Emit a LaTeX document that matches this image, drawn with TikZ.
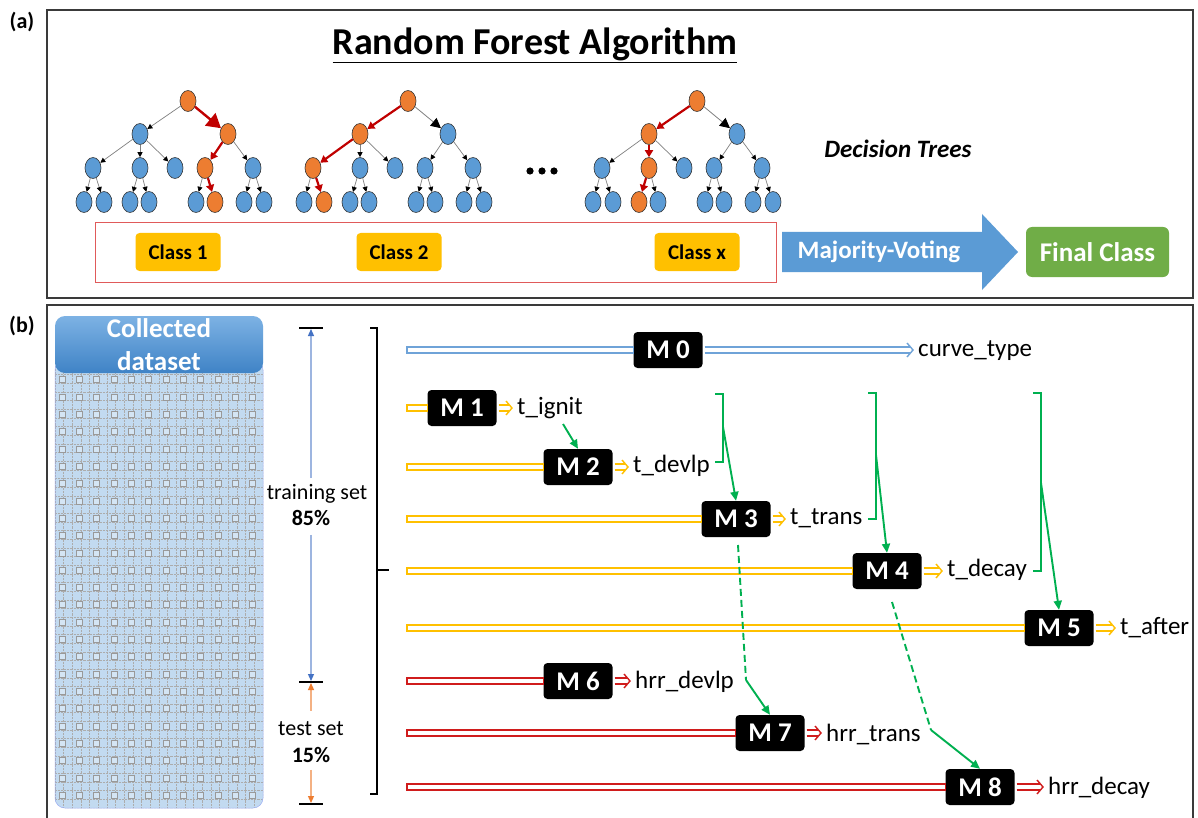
\documentclass[tikz,border=0pt]{standalone}
\usepackage{fontspec}
\setmainfont{Carlito}
\usetikzlibrary{arrows.meta,shapes.geometric,calc}
\definecolor{tblue}{HTML}{5B9BD5}
\definecolor{torange}{HTML}{ED7D31}
\definecolor{tred}{HTML}{C00000}
\definecolor{cyellow}{HTML}{FFC000}
\definecolor{fgreen}{HTML}{70AD47}
\definecolor{ggreen}{HTML}{00B050}
\definecolor{lblue}{HTML}{6FA3D8}
\definecolor{lred}{HTML}{D01C1C}
\definecolor{dsblue}{HTML}{C2DAF0}
\definecolor{hdtop}{HTML}{7DB2E4}
\definecolor{hdbot}{HTML}{3F83C6}
\definecolor{dimblue}{HTML}{9DB5E0}
\definecolor{dimbluea}{HTML}{4472C4}
\definecolor{dimor}{HTML}{F4B183}
\definecolor{redbox}{HTML}{E05A5A}
\definecolor{frame}{HTML}{3A3A3A}
\newcommand{\rftree}[2]{%
\node[tn,#1r/.try] (#1r) at (#2,101) {};
\node[tn,#1L/.try] (#1L) at (#2-48,134) {};
\node[tn,#1R/.try] (#1R) at (#2+40,134) {};
\node[tn,#1a/.try] (#1a) at (#2-95,168) {};
\node[tn,#1b/.try] (#1b) at (#2-48,168) {};
\node[tn,#1c/.try] (#1c) at (#2-13,168) {};
\node[tn,#1d/.try] (#1d) at (#2+17,168) {};
\node[tn,#1e/.try] (#1e) at (#2+65,168) {};
\node[tn,#1a1/.try] (#1a1) at (#2-104,202) {};
\node[tn,#1a2/.try] (#1a2) at (#2-84,202) {};
\node[tn,#1b1/.try] (#1b1) at (#2-58,202) {};
\node[tn,#1b2/.try] (#1b2) at (#2-39,202) {};
\node[tn,#1d1/.try] (#1d1) at (#2+8,202) {};
\node[tn,#1d2/.try] (#1d2) at (#2+27,202) {};
\node[tn,#1e1/.try] (#1e1) at (#2+56,202) {};
\node[tn,#1e2/.try] (#1e2) at (#2+76,202) {};
\draw[te,#1-L/.try] (#1r) -- (#1L);
\draw[te,#1-R/.try] (#1r) -- (#1R);
\draw[te,#1-a/.try] (#1L) -- (#1a);
\draw[te,#1-b/.try] (#1L) -- (#1b);
\draw[te,#1-c/.try] (#1L) -- (#1c);
\draw[te,#1-d/.try] (#1R) -- (#1d);
\draw[te,#1-e/.try] (#1R) -- (#1e);
\draw[te,#1-a1/.try] (#1a) -- (#1a1);
\draw[te,#1-a2/.try] (#1a) -- (#1a2);
\draw[te,#1-b1/.try] (#1b) -- (#1b1);
\draw[te,#1-b2/.try] (#1b) -- (#1b2);
\draw[te,#1-d1/.try] (#1d) -- (#1d1);
\draw[te,#1-d2/.try] (#1d) -- (#1d2);
\draw[te,#1-e1/.try] (#1e) -- (#1e1);
\draw[te,#1-e2/.try] (#1e) -- (#1e2);
}
% hollow double arrow "=>" from node anchor #2 to node anchor #3 in colour #1
\newcommand{\dblarrow}[3]{%
\coordinate (da) at ($(#2)+(2,0)$);
\coordinate (db) at ($(#2 -| #3)+(-5,0)$);
\draw[draw=#1, line width=1.4pt] ($(da)+(0,-3)$) -- ($(db)+(-3,-3)$) ($(da)+(0,3)$) -- ($(db)+(-3,3)$);
\draw[draw=#1, line width=1.4pt, line join=miter] ($(db)+(-6,-7)$) -- (db) -- ($(db)+(-6,7)$);
}
\tikzset{
  tn/.style={ellipse, draw=black!80, line width=0.6pt, fill=tblue, minimum width=16, minimum height=21, inner sep=0},
  orng/.style={fill=torange},
  te/.style={draw=gray, line width=0.7pt, -{Triangle[length=5pt,width=5pt,color=black]}},
  he/.style={draw=tred, line width=2.2pt, -{Triangle[length=7pt,width=8pt]}},
  bigred/.style={draw=tred, line width=2.4pt, -{Triangle[length=14pt,width=16pt]}},
  bigbk/.style={draw=gray, line width=0.8pt, -{Triangle[length=10pt,width=10pt,color=black]}},
  Ar/.style=orng, AR/.style=orng, Ad/.style=orng, Ad2/.style=orng,
  A-R/.style=bigred, A-d/.style=he, A-d2/.style=he,
  Br/.style=orng, BL/.style=orng, Ba/.style=orng, Ba2/.style=orng,
  B-L/.style=he, B-a/.style=he, B-a2/.style=he, B-R/.style=bigbk,
  Cr/.style=orng, CL/.style=orng, Cb/.style=orng, Cb1/.style=orng,
  C-L/.style=he, C-b/.style=he, C-b1/.style=he, C-R/.style=bigbk,
  frm/.style={draw=frame, line width=1.3pt},
  cls/.style={fill=cyellow, rounded corners=4, minimum width=85, minimum height=38, inner sep=0, font=\bfseries\fontsize{21}{25}\selectfont},
  mbox/.style={fill=black, rounded corners=4, minimum width=69, minimum height=36, inner sep=0, text=white, font=\bfseries\fontsize{27}{30}\selectfont},
  lbl/.style={inner sep=0, anchor=west, font=\fontsize{25}{29}\selectfont},
  shaft/.style={fill=white, line width=1.4pt},
  gbr/.style={draw=ggreen, line width=1.9pt},
  garr/.style={draw=ggreen, line width=1.9pt, -{Triangle[length=9pt,width=8pt]}},
  gdash/.style={draw=ggreen, line width=1.9pt, dash pattern=on 7pt off 4pt},
  dimtxt/.style={inner sep=1, font=\fontsize{22}{26}\selectfont},
  tick/.style={draw=black, line width=1.3pt},
}
\begin{document}
\begin{tikzpicture}[x=1pt,y=-1pt]
\fill[white] (0,0) rectangle (1198,818);
\useasboundingbox (0,0) rectangle (1198,818);
% frames
\draw[frm] (47,10) rectangle (1193,298);
\draw[frm] (47,305) rectangle (1193,824);
\node[font=\bfseries\fontsize{22}{26}\selectfont] (la) at (22,22) {(a)};
\node[font=\bfseries\fontsize{22}{26}\selectfont] (lb) at (22,326) {(b)};
% title
\node[font=\bfseries\fontsize{38}{44}\selectfont] (title) at (535,45) {\underline{Random Forest Algorithm}};
% trees
\rftree{A}{188}
\rftree{B}{408}
\rftree{C}{697}
\fill (530,171) circle (3.6);
\fill (542,171) circle (3.6);
\fill (554,171) circle (3.6);
\node[font=\bfseries\itshape\fontsize{25}{29}\selectfont] (dt) at (898,149) {Decision Trees};
% classes
\draw[draw=redbox, line width=1pt] (95,223) rectangle (776,282);
\node[cls] (c1) at (178,252) {Class 1};
\node[cls] (c2) at (399,252) {Class 2};
\node[cls] (cx) at (697,252) {Class x};
\fill[tblue] (782,232) -- (982,232) -- (982,214) -- (1018,252) -- (982,290) -- (982,272) -- (782,272) -- cycle;
\node[text=white, font=\bfseries\fontsize{25}{29}\selectfont] (mv) at (879,252) {Majority-Voting};
\node[fill=fgreen, rounded corners=6, minimum width=143, minimum height=50, inner sep=0, text=white, font=\bfseries\fontsize{27}{31}\selectfont] (fc) at (1097.5,252) {Final Class};
% dataset
\begin{scope}
\clip[rounded corners=10] (55,360) rectangle (263,808);
\fill[dsblue] (55,360) rectangle (263,808);
\foreach \i in {0,...,24} \draw[gray!65, line width=0.45pt, densely dotted] (55+\i*8.667,366) -- ++(0,450);
\foreach \j in {0,...,51} \draw[gray!65, line width=0.45pt, densely dotted] (55,366+\j*8.667) -- ++(210,0);
\foreach \i in {0,...,11} \foreach \j in {0,...,25} \draw[gray!80, line width=0.6pt, fill=dsblue!70!white] (59+\i*17.33,376.5+\j*17.33) rectangle ++(6,6);
\end{scope}
\draw[dsblue!80!blue, line width=0.5pt, rounded corners=10] (55,360) rectangle (263,808);
\shade[top color=hdtop, bottom color=hdbot, rounded corners=10] (55,316) rectangle (263,373);
\node[text=white, align=center, font=\bfseries\fontsize{27}{33}\selectfont] (cd) at (159,345) {Collected\\dataset};
% dimensions
\coordinate (ttop) at (311,328);
\coordinate (tmid) at (311,682);
\coordinate (tbot) at (311,804);
\draw[tick] (299,328) -- (323,328);
\draw[tick] (299,682) -- (323,682);
\draw[tick] (299,804) -- (323,804);
\node[dimtxt] (trs) at (317,494) {training set};
\node[dimtxt, font=\bfseries\fontsize{22}{26}\selectfont] (p85) at (311,518) {85\%};
\node[dimtxt] (tss) at (311,729) {test set};
\node[dimtxt, font=\bfseries\fontsize{22}{26}\selectfont] (p15) at (311,755) {15\%};
\draw[draw=dimblue, line width=1.2pt, -{Triangle[length=7pt,width=6pt,color=dimbluea]}] (311,478) -- ($(ttop)+(0,1)$);
\draw[draw=dimblue, line width=1.2pt, -{Triangle[length=7pt,width=6pt,color=dimbluea]}] ($(p85.south)+(0,8)$) -- ($(tmid)+(0,-1)$);
\draw[draw=dimor, line width=1.2pt, -{Triangle[length=7pt,width=6pt,color=torange]}] ($(tss.north)+(0,-10)$) -- ($(tmid)+(0,1)$);
\draw[draw=dimor, line width=1.2pt, -{Triangle[length=7pt,width=6pt,color=torange]}] ($(p15.south)+(0,6)$) -- ($(tbot)+(0,-1)$);
\draw[black, line width=1.5pt] (370,328) -- (377,328) -- (377,794) -- (370,794);
\draw[black, line width=1.5pt] (377,570) -- (389,570);
% model boxes
\node[mbox] (m0) at (668,350) {M 0};
\node[mbox] (m1) at (462,408) {M 1};
\node[mbox] (m2) at (578,467) {M 2};
\node[mbox] (m3) at (736,519) {M 3};
\node[mbox] (m4) at (887,571) {M 4};
\node[mbox] (m5) at (1059,628) {M 5};
\node[mbox] (m6) at (578,681) {M 6};
\node[mbox] (m7) at (770,733) {M 7};
\node[mbox] (m8) at (980,787) {M 8};
% output labels
\node[lbl] (o0) at (918,351) {curve\_type};
\node[lbl] (o1) at (517,408) {t\_ignit};
\node[lbl] (o2) at (633,466) {t\_devlp};
\node[lbl] (o3) at (790,518) {t\_trans};
\node[lbl] (o4) at (947,570) {t\_decay};
\node[lbl] (o5) at (1120,628) {t\_after};
\node[lbl] (o6) at (635,682) {hrr\_devlp};
\node[lbl] (o7) at (826,734) {hrr\_trans};
\node[lbl] (o8) at (1048,788) {hrr\_decay};
% shafts
\foreach \m/\c in {m0/lblue, m1/cyellow, m2/cyellow, m3/cyellow, m4/cyellow, m5/cyellow, m6/lred, m7/lred, m8/lred}{
  \coordinate (s-\m) at (407,0 |- \m.west);
  \draw[shaft, draw=\c] ($(s-\m)+(0,-3)$) rectangle ($(\m.west)+(0,3)$);
}
\dblarrow{lblue}{m0.east}{o0.west}
\dblarrow{cyellow}{m1.east}{o1.west}
\dblarrow{cyellow}{m2.east}{o2.west}
\dblarrow{cyellow}{m3.east}{o3.west}
\dblarrow{cyellow}{m4.east}{o4.west}
\dblarrow{cyellow}{m5.east}{o5.west}
\dblarrow{lred}{m6.east}{o6.west}
\dblarrow{lred}{m7.east}{o7.west}
\dblarrow{lred}{m8.east}{o8.west}
% green connectors
\coordinate (i1) at (563,424);
\draw[garr] (i1) -- (m2.north);
\draw[gbr] (715,394) -- (723,394) -- (723,462) -- (715,462);
\coordinate (b1o) at (723,427);
\draw[garr] (b1o) -- (m3.north);
\draw[gbr] (868,393) -- (876,393) -- (876,519) -- (868,519);
\coordinate (b2o) at (876,455);
\draw[garr] (b2o) -- (m4.north);
\draw[gbr] (1033,393) -- (1041,393) -- (1041,571) -- (1033,571);
\coordinate (b3o) at (1041,483);
\draw[garr] (b3o) -- (m5.north);
\coordinate (d1a) at (738,545);
\coordinate (d1b) at (746,680);
\draw[gdash] (d1a) -- (d1b);
\draw[garr] (d1b) -- (m7.north);
\coordinate (d2a) at (892,602);
\coordinate (d2b) at (931,730);
\draw[gdash] (d2a) -- (d2b);
\draw[garr] (d2b) -- (m8.north);
\end{tikzpicture}
\end{document}
